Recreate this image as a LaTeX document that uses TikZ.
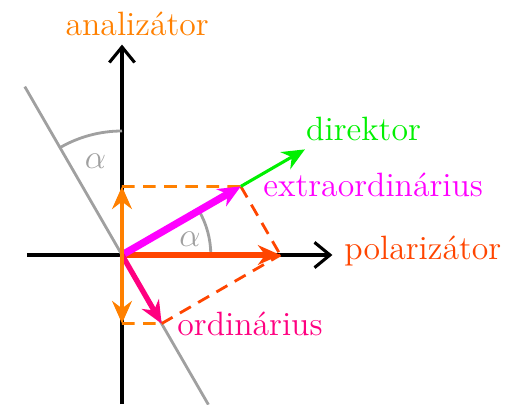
\documentclass[tikz,border=0pt]{standalone}
\usetikzlibrary{arrows.meta}
\definecolor{anaorange}{RGB}{255,128,0}
\definecolor{polred}{RGB}{255,69,0}
\definecolor{ordpink}{RGB}{255,0,128}
\definecolor{extramag}{RGB}{255,0,255}
\definecolor{dirgreen}{RGB}{0,240,0}
\definecolor{axgray}{RGB}{160,160,160}
\tikzset{
  axis/.style={line width=1.1pt,-{Straight Barb[length=5.5pt,width=9pt]}},
  vec/.style={-{Stealth[length=8pt,width=7pt]}},
  proj/.style={dashed,line width=1pt,dash pattern=on 4.5pt off 3pt},
  lbl/.style={font=\fontsize{12}{14}\selectfont,anchor=base,inner sep=0pt}
}
\begin{document}
\begin{tikzpicture}
   \useasboundingbox (-1.525,-1.8625) rectangle (4.8,3.1875);

   \coordinate (O) at (0,0);
   \coordinate (P) at (0:1.98);
   \coordinate (E) at (30:1.7147);
   \coordinate (R) at (-60:0.99);
   \coordinate (D) at (30:2.64);
   \coordinate (Eup) at (0,0.857);
   \coordinate (Rdn) at (0,-0.857);
   \coordinate (Xl) at (-1.19,0);
   \coordinate (Xr) at (2.63,0);
   \coordinate (Yb) at (0,-1.8625);
   \coordinate (Yt) at (0,2.63);
   \coordinate (Gt) at (120:2.43);
   \coordinate (Gb) at (-60:2.16);

   \node[lbl,text=anaorange] at (0.19,2.74)  (ana) {analizátor};
   \node[lbl,text=dirgreen] at (3.02,1.425)  (dir) {direktor};
   \node[lbl,text=extramag] at (3.14,0.725)  (ext) {extraordinárius};
   \node[lbl,text=polred]   at (3.76,-0.06)  (pol) {polarizátor};
   \node[lbl,text=ordpink]  at (1.6,-1.0)    (ord) {ordinárius};

   % axes and the plane perpendicular to the director
   \draw[axis] (Xl) -- (Xr);
   \draw[axis] (Yb) -- (Yt);
   \draw[axgray,line width=1pt] (Gt) -- (Gb);

   % angles
   \draw[axgray,line width=1pt] (90:1.55) arc (90:120:1.55);
   \draw[axgray,line width=1pt] (0:1.11) arc (0:30:1.11);
   \node[lbl,anchor=center,text=axgray] at (-0.33,1.17) (a1) {$\alpha$};
   \node[lbl,anchor=center,text=axgray] at (0.85,0.2)   (a2) {$\alpha$};

   % projections
   \draw[proj,anaorange] (Eup) -- (E);
   \draw[proj,anaorange] (Rdn) -- (R);
   \draw[proj,polred] (E) -- (P);
   \draw[proj,polred] (R) -- (P);

   % vectors
   \draw[vec,dirgreen,line width=1.1pt] (E) -- (D);
   \draw[vec,polred,line width=1.9pt] (O) -- (P);
   \draw[vec,extramag,line width=2.6pt] (O) -- (E);
   \draw[vec,ordpink,line width=1.9pt] (O) -- (R);
   \draw[vec,anaorange,line width=1.5pt] (O) -- (Eup);
   \draw[vec,anaorange,line width=1.5pt] (O) -- (Rdn);

\end{tikzpicture}
\end{document}
